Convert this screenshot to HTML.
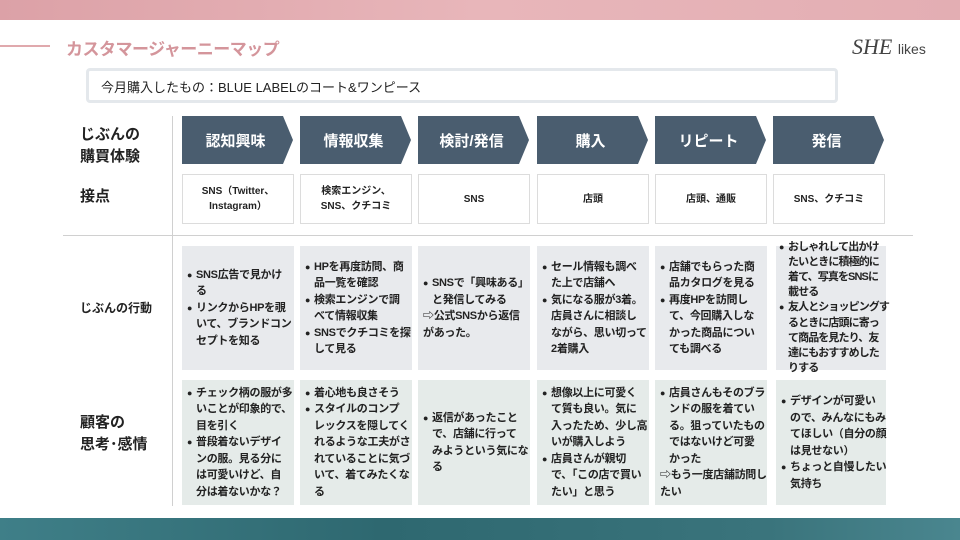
<!DOCTYPE html>
<html><head><meta charset="utf-8"><style>
*{margin:0;padding:0;box-sizing:border-box}
body{width:960px;height:540px;position:relative;overflow:hidden;background:#fff;font-family:"Liberation Sans","Noto Sans CJK JP",sans-serif;color:#222}
.a{position:absolute}
.top{left:0;top:0;width:960px;height:20px;background:linear-gradient(90deg,#dca1a7,#e8b6ba 50%,#e3aeb3)}
.bot{left:0;top:518px;width:960px;height:22px;background:linear-gradient(90deg,#3f7f88,#2e6870 40%,#3a747c 80%,#4a868f)}
.title{left:66px;top:35px;font-size:17px;font-weight:bold;color:#d4959b;letter-spacing:-0.5px}
.tline{left:0;top:45px;width:50px;height:2px;background:#e0a9ad}
.logo{left:852px;top:34px;font-family:"Liberation Serif",serif;font-style:italic;font-size:22px;color:#444}
.logo span{font-size:14px;font-family:"Liberation Sans",sans-serif;font-style:normal}
.bought{left:86px;top:68px;width:752px;height:35px;border:3px solid #e4e8ec;border-radius:4px;font-size:13px;padding:6px 12px;color:#222}
.lab{font-size:15px;font-weight:bold;line-height:22px;color:#222}
.chev{height:48px;top:116px;width:115px;background:#4a5d6f;color:#fff;font-size:15px;font-weight:bold;display:flex;align-items:center;justify-content:center;padding-right:8px;clip-path:polygon(0 0,101px 0,111px 50%,101px 100%,0 100%)}
.tp{top:174px;width:112px;height:50px;border:1px solid #dcdcdc;font-size:10px;font-weight:bold;display:flex;align-items:center;justify-content:center;text-align:center;line-height:15px}
.bx{width:112px;font-size:11px;font-weight:bold;line-height:16.5px;padding:0 0 0 5px;display:flex;flex-direction:column;justify-content:center;letter-spacing:-0.3px;white-space:nowrap}
.b1{top:246px;height:124px;background:#e8eaed}
.b2{top:380px;height:125px;background:#e5ebe9}
.bx i{font-style:normal;display:block;padding-left:9px}
.bx b{font-size:9px;display:inline-block;width:9px;vertical-align:0px}
</style></head><body>
<div class="a top"></div><div class="a bot"></div>
<div class="a tline"></div>
<div class="a title">カスタマージャーニーマップ</div>
<div class="a logo">SHE <span>likes</span></div>
<div class="a bought">今月購入したもの：BLUE LABELのコート&amp;ワンピース</div>
<div class="a" style="left:172px;top:116px;width:1px;height:390px;background:#d0d0d0"></div>
<div class="a" style="left:63px;top:235px;width:850px;height:1px;background:#d0d0d0"></div>
<div class="a lab" style="left:80px;top:124px">じぶんの<br>購買体験</div>
<div class="a lab" style="left:80px;top:186px">接点</div>
<div class="a lab" style="left:80px;top:297px;font-size:12px">じぶんの行動</div>
<div class="a lab" style="left:80px;top:412px">顧客の<br>思考･感情</div>

<div class="a chev" style="left:182px">認知興味</div>
<div class="a chev" style="left:300px">情報収集</div>
<div class="a chev" style="left:418px">検討/発信</div>
<div class="a chev" style="left:537px">購入</div>
<div class="a chev" style="left:655px">リピート</div>
<div class="a chev" style="left:773px">発信</div>

<div class="a tp" style="left:182px">SNS（Twitter、<br>Instagram）</div>
<div class="a tp" style="left:300px">検索エンジン、<br>SNS、クチコミ</div>
<div class="a tp" style="left:418px">SNS</div>
<div class="a tp" style="left:537px">店頭</div>
<div class="a tp" style="left:655px">店頭、通販</div>
<div class="a tp" style="left:773px">SNS、クチコミ</div>

<div class="a bx b1" style="left:182px"><div><b>●</b>SNS広告で見かけ</div><i>る</i><div><b>●</b>リンクからHPを覗</div><i>いて、ブランドコン</i><i>セプトを知る</i></div>
<div class="a bx b1" style="left:300px"><div><b>●</b>HPを再度訪問、商</div><i>品一覧を確認</i><div><b>●</b>検索エンジンで調</div><i>べて情報収集</i><div><b>●</b>SNSでクチコミを探</div><i>して見る</i></div>
<div class="a bx b1" style="left:418px"><div><b>●</b>SNSで「興味ある」</div><i>と発信してみる</i><div>⇨公式SNSから返信</div><div>があった。</div></div>
<div class="a bx b1" style="left:537px"><div><b>●</b>セール情報も調べ</div><i>た上で店舗へ</i><div><b>●</b>気になる服が3着。</div><i>店員さんに相談し</i><i>ながら、思い切って</i><i>2着購入</i></div>
<div class="a bx b1" style="left:655px"><div><b>●</b>店舗でもらった商</div><i>品カタログを見る</i><div><b>●</b>再度HPを訪問し</div><i>て、今回購入しな</i><i>かった商品につい</i><i>ても調べる</i></div>
<div class="a" style="left:776px;top:246px;width:110px;height:124px;background:#e8eaed"></div>
<div class="a bx" style="left:776px;top:238px;height:140px;padding-left:3px;letter-spacing:-0.9px;line-height:15.2px"><div><b>●</b>おしゃれして出かけ</div><i>たいときに積極的に</i><i>着て、写真をSNSに</i><i>載せる</i><div><b>●</b>友人とショッピングす</div><i>るときに店頭に寄っ</i><i>て商品を見たり、友</i><i>達にもおすすめした</i><i>りする</i></div>

<div class="a bx b2" style="left:182px"><div><b>●</b>チェック柄の服が多</div><i>いことが印象的で、</i><i>目を引く</i><div><b>●</b>普段着ないデザイ</div><i>ンの服。見る分に</i><i>は可愛いけど、自</i><i>分は着ないかな？</i></div>
<div class="a bx b2" style="left:300px"><div><b>●</b>着心地も良さそう</div><div><b>●</b>スタイルのコンプ</div><i>レックスを隠してく</i><i>れるような工夫がさ</i><i>れていることに気づ</i><i>いて、着てみたくな</i><i>る</i></div>
<div class="a bx b2" style="left:418px"><div><b>●</b>返信があったこと</div><i>で、店舗に行って</i><i>みようという気にな</i><i>る</i></div>
<div class="a bx b2" style="left:537px"><div><b>●</b>想像以上に可愛く</div><i>て質も良い。気に</i><i>入ったため、少し高</i><i>いが購入しよう</i><div><b>●</b>店員さんが親切</div><i>で、「この店で買い</i><i>たい」と思う</i></div>
<div class="a bx b2" style="left:655px"><div><b>●</b>店員さんもそのブラ</div><i>ンドの服を着てい</i><i>る。狙っていたもの</i><i>ではないけど可愛</i><i>かった</i><div>⇨もう一度店舗訪問し</div><div>たい</div></div>
<div class="a bx b2" style="left:776px;width:110px"><div><b>●</b>デザインが可愛い</div><i>ので、みんなにもみ</i><i>てほしい（自分の顔</i><i>は見せない）</i><div><b>●</b>ちょっと自慢したい</div><i>気持ち</i></div>
</body></html>
